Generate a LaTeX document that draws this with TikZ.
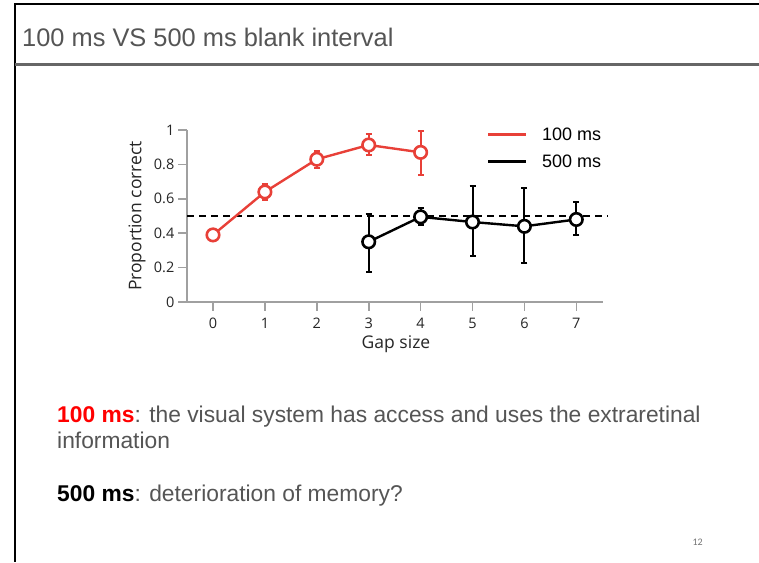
\documentclass[tikz,border=0pt]{standalone}
\usepackage{fontspec}
\setmainfont{Liberation Sans}
\newfontfamily\plotfont{Open Sans}
\newfontfamily\pagefont{Carlito}
\usetikzlibrary{arrows.meta}
\definecolor{slidegray}{RGB}{85,85,85}
\definecolor{bargray}{RGB}{102,102,102}
\definecolor{axisgray}{RGB}{160,160,160}
\definecolor{plotred}{RGB}{232,64,56}
\definecolor{textred}{RGB}{255,0,0}
\tikzset{
  frameline/.style={black, line width=2pt},
  titlebar/.style={bargray, line width=3.5pt},
  axisline/.style={axisgray, line width=1.6pt},
  ticklab/.style={font=\plotfont\fontsize{14.5}{16}\selectfont, text=black!85, inner sep=0pt},
  axlab/.style={font=\plotfont\fontsize{17.5}{20}\selectfont, text=black!85, inner sep=0pt},
  dataline/.style={line width=2.4pt},
  ebar/.style={line width=2pt, {Bar[width=6pt,line width=2pt]}-{Bar[width=6pt,line width=2pt]}},
  dotmark/.style={circle, draw=#1, fill=white, line width=2.6pt, minimum size=12.5pt, inner sep=0pt},
  legtxt/.style={font=\fontsize{18}{20}\selectfont, anchor=west, inner sep=0pt},
  body/.style={font=\fontsize{22.8}{26}\selectfont, text=slidegray, anchor=base west, inner sep=0pt},
}
\begin{document}
\begin{tikzpicture}[x=1pt, y=-1pt]
\useasboundingbox (0,0) rectangle (759,562);
\fill[white] (0,0) rectangle (759,562);
% slide frame
\coordinate (ftl) at (15,4);
\coordinate (ftr) at (759,4);
\coordinate (fbl) at (15,562);
\draw[frameline] (ftr) -- (ftl) -- (fbl);
\coordinate (bl) at (15,64.5);
\coordinate (br) at (759,64.5);
\draw[titlebar] (bl) -- (br);
\node[anchor=base west, inner sep=0pt, text=slidegray, font=\fontsize{25.4}{28}\selectfont] (title) at (22,46.5) {100 ms VS 500 ms blank interval};

% axes
\coordinate (ytop) at (187,130);
\coordinate (orig) at (187,302);
\coordinate (xend) at (603,302);
\draw[axisline] (ytop) -- (orig) -- (xend);
\foreach \v/\l [count=\i] in {0/0,0.2/0.2,0.4/0.4,0.6/0.6,0.8/0.8,1/1}{
  \coordinate (yt\i) at (187,302-172*\v);
  \coordinate (ytl\i) at (178,302-172*\v);
  \draw[axisline] (yt\i) -- (ytl\i);
  \node[ticklab, anchor=east] (ylab\i) at (174.5,302-172*\v) {\l};
}
\foreach \k in {0,...,7}{
  \coordinate (xt\k) at (213+51.9*\k,302);
  \coordinate (xtb\k) at (213+51.9*\k,311);
  \draw[axisline] (xt\k) -- (xtb\k);
  \node[ticklab, anchor=center] (xlab\k) at (213+51.9*\k,323) {\k};
}
\node[axlab, anchor=base] (gap) at (396,348) {Gap size};
\node[axlab, rotate=90, anchor=center] (ylabel) at (137,216) {Proportion correct};

% chance line
\coordinate (d1) at (187,216);
\coordinate (d2) at (608,216);
\draw[black, line width=1.2pt, dash pattern=on 7pt off 5pt] (d1) -- (d2);

% data
\begin{scope}[shift={(213,302)}, x=51.9pt, y=172pt]
  % red
  \foreach \n/\x/\y in {0/0/0.39,1/1/0.64,2/2/0.83,3/3/0.913,4/4/0.87}{
    \coordinate (r\n) at (\x,\y);
  }
  \foreach \x/\lo/\hi in {1/0.59/0.69,2/0.775/0.885,3/0.85/0.98,4/0.733/1.0}{
    \draw[ebar, plotred] (\x,\lo) -- (\x,\hi);
  }
  \draw[dataline, plotred] (r0) -- (r1) -- (r2) -- (r3) -- (r4);
  % black
  \foreach \n/\x/\y in {3/3/0.35,4/4/0.495,5/5/0.465,6/6/0.44,7/7/0.48}{
    \coordinate (b\n) at (\x,\y);
  }
  \foreach \x/\lo/\hi in {3/0.17/0.52,4/0.44/0.55,5/0.26/0.68,6/0.22/0.67,7/0.385/0.585}{
    \draw[ebar, black] (\x,\lo) -- (\x,\hi);
  }
  \draw[dataline, black] (b3) -- (b4) -- (b5) -- (b6) -- (b7);
  \foreach \n in {0,...,4}{ \node[dotmark=plotred] (rm\n) at (r\n) {}; }
  \foreach \n in {3,...,7}{ \node[dotmark=black] (bm\n) at (b\n) {}; }
\end{scope}

% legend
\coordinate (l1a) at (488,134);
\coordinate (l1b) at (526,134);
\coordinate (l2a) at (488,161);
\coordinate (l2b) at (526,161);
\draw[plotred, line width=3pt] (l1a) -- (l1b);
\draw[black, line width=3pt] (l2a) -- (l2b);
\node[legtxt] (leg1) at (542,134) {100 ms};
\node[legtxt] (leg2) at (542,161) {500 ms};

% body text
\node[body] (t1) at (57,422) {\textcolor{textred}{\textbf{100 ms}}: the visual system has access and uses the extraretinal};
\node[body] (t2) at (57,448) {information};
\node[body] (t3) at (57,501) {\textcolor{black}{\textbf{500 ms}}: deterioration of memory?};
\node[anchor=base east, inner sep=0pt, text=black!55, font=\pagefont\fontsize{10}{12}\selectfont] (pg) at (703,545) {12};
\end{tikzpicture}
\end{document}
